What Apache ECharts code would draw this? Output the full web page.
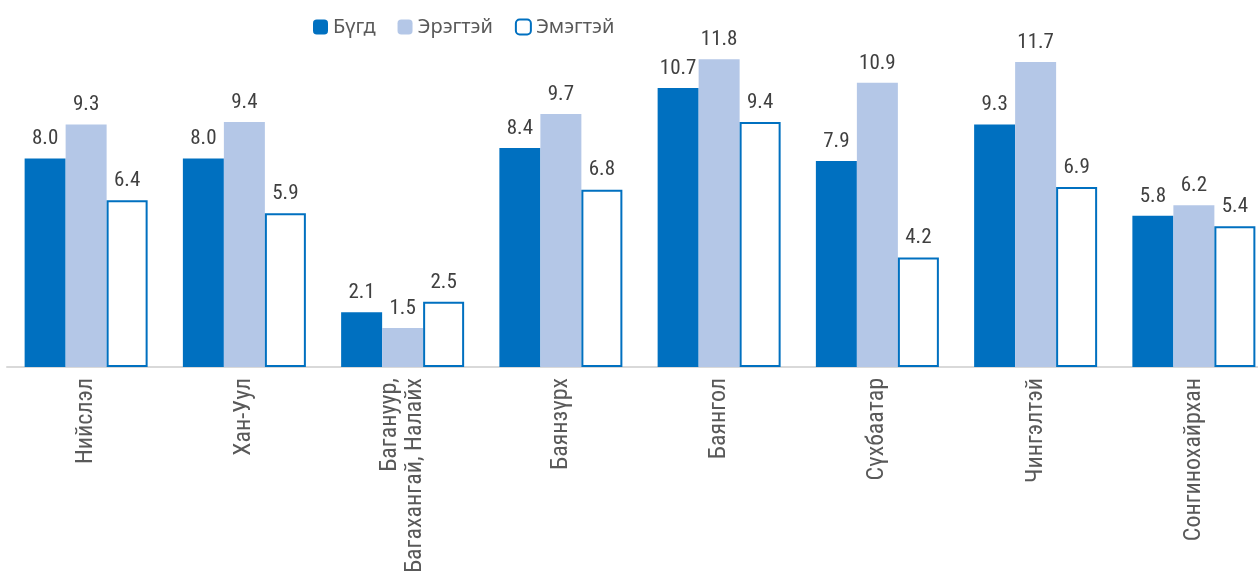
<!DOCTYPE html>
<html>
<head>
<meta charset="utf-8">
<script src="https://cdn.jsdelivr.net/npm/echarts@6/dist/echarts.min.js"></script>
<style>
  html, body { margin: 0; padding: 0; background: #fff; overflow: hidden; }
  #chart { width: 1273px; height: 571px; }
</style>
</head>
<body>
<div id="chart"></div>
<script>
// категориуд (дүүрэг)
const categories = [
  'Нийслэл',
  'Хан-Уул',
  'Багануур,\nБагахангай, Налайх',
  'Баянзүрх',
  'Баянгол',
  'Сүхбаатар',
  'Чингэлтэй',
  'Сонгинохайрхан'
]
const seriesNames = ['Бүгд', 'Эрэгтэй', 'Эмэгтэй']
const totalValues = [8.0, 8.0, 2.1, 8.4, 10.7, 7.9, 9.3, 5.8]
const maleValues = [9.3, 9.4, 1.5, 9.7, 11.8, 10.9, 11.7, 6.2]
const femaleValues = [6.4, 5.9, 2.5, 6.8, 9.4, 4.2, 6.9, 5.4]

const labelOpt = {
  show: true,
  position: 'top',
  distance: 9,
  color: '#404040',
  fontFamily: 'Roboto Condensed',
  fontSize: 21,
  formatter: (p) => p.value.toFixed(1)
}

const chart = echarts.init(document.getElementById('chart'))
chart.setOption({
  animation: false,
  legend: {
    left: 308,
    top: 12,
    itemWidth: 15,
    itemHeight: 15,
    itemGap: 22,
    textStyle: { color: '#595959', fontFamily: 'Noto Sans', fontSize: 20 },
    data: seriesNames
  },
  grid: {
    left: 7,
    right: 0,
    top: 2,
    bottom: 204,
    outerBoundsMode: 'none',
    containLabel: false
  },
  xAxis: {
    type: 'category',
    data: categories,
    axisLine: { lineStyle: { color: '#d9d9d9', width: 2 } },
    axisTick: { show: false },
    axisLabel: {
      rotate: 90,
      margin: 11,
      interval: 0,
      hideOverlap: false,
      color: '#595959',
      fontFamily: 'Roboto Condensed',
      fontSize: 24,
      lineHeight: 25
    }
  },
  yAxis: {
    type: 'value',
    min: 0,
    max: 14,
    show: false,
    splitLine: { show: false }
  },
  series: [
    {
      name: seriesNames[0],
      type: 'bar',
      barWidth: 41,
      barGap: '0%',
      itemStyle: { color: '#0070C0' },
      label: labelOpt,
      data: totalValues
    },
    {
      name: seriesNames[1],
      type: 'bar',
      barWidth: 41,
      barGap: '0%',
      itemStyle: { color: '#B4C7E7' },
      label: labelOpt,
      data: maleValues
    },
    {
      name: seriesNames[2],
      type: 'bar',
      barWidth: 41,
      barGap: '0%',
      itemStyle: { color: '#ffffff', borderColor: '#0070C0', borderWidth: 2 },
      label: labelOpt,
      data: femaleValues
    }
  ]
})
</script>
</body>
</html>
